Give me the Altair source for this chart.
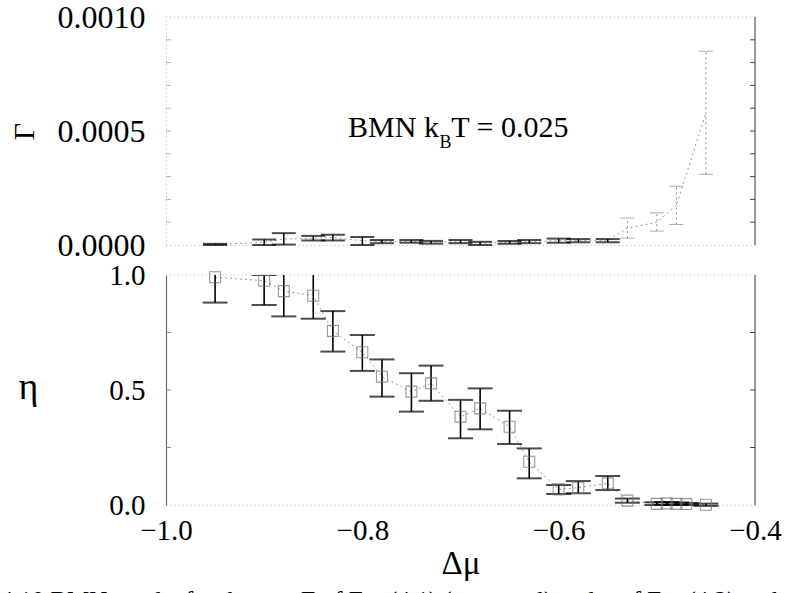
import altair as alt
import pandas as pd

# ---------------- data ----------------
X_DOMAIN = [-1.0, -0.4]
G_DOMAIN = [0.0, 0.001]
E_DOMAIN = [0.0, 1.0]

x_ticks = [-1.0, -0.8, -0.6, -0.4]
g_ticks = [0.0, 0.0005, 0.001]
e_ticks = [0.0, 0.5, 1.0]

# small inward frame ticks
g_minor = [0.0001, 0.0002, 0.0003, 0.0004, 0.0005, 0.0006, 0.0007, 0.0008, 0.0009]
e_minor = [0.25, 0.5, 0.75]
TICK_LEN = 0.005  # in data units of the x axis

# top panel: rate Gamma
g_mu = [-0.95, -0.90, -0.88, -0.85, -0.83, -0.80, -0.78, -0.75, -0.73, -0.70,
        -0.68, -0.65, -0.63, -0.60, -0.58, -0.55, -0.53, -0.50, -0.48, -0.45]
g_val = [0.000002, 0.000012, 0.000026, 0.000030, 0.000033, 0.000019, 0.000015, 0.000016, 0.000012, 0.000015,
         0.000007, 0.000012, 0.000015, 0.000019, 0.000019, 0.000019, 0.000074, 0.000100, 0.000174, 0.000580]
g_lo = [0.000000, 0.000000, 0.000002, 0.000020, 0.000020, 0.000000, 0.000008, 0.000010, 0.000006, 0.000008,
        0.000000, 0.000006, 0.000008, 0.000010, 0.000012, 0.000012, 0.000030, 0.000061, 0.000090, 0.000310]
g_hi = [0.000005, 0.000024, 0.000052, 0.000040, 0.000045, 0.000035, 0.000022, 0.000022, 0.000018, 0.000022,
        0.000014, 0.000018, 0.000022, 0.000028, 0.000026, 0.000026, 0.000118, 0.000141, 0.000258, 0.000850]

# bottom panel: eta
e_mu = [-0.95, -0.90, -0.88, -0.85, -0.83, -0.80, -0.78, -0.75, -0.73, -0.70, -0.68,
        -0.65, -0.63, -0.60, -0.58, -0.55, -0.53, -0.50, -0.49, -0.48, -0.47, -0.45]
e_val = [0.990, 0.975, 0.930, 0.910, 0.757, 0.664, 0.558, 0.493, 0.529, 0.384, 0.420,
         0.340, 0.188, 0.068, 0.075, 0.094, 0.019, 0.005, 0.007, 0.005, 0.004, 0.001]
e_lo = [0.880, 0.870, 0.820, 0.810, 0.667, 0.583, 0.471, 0.406, 0.453, 0.290, 0.329,
        0.265, 0.116, 0.048, 0.051, 0.065, 0.010, 0.000, 0.001, 0.000, 0.000, -0.004]
e_hi = [1.060, 1.000, 1.030, 1.030, 0.843, 0.739, 0.633, 0.573, 0.606, 0.457, 0.507,
        0.410, 0.246, 0.087, 0.104, 0.126, 0.028, 0.012, 0.013, 0.011, 0.009, 0.006]

ann_text = ["BMN k", "B", "T = 0.025"]
ann_mu = [-0.722, -0.7215, -0.7095]
ann_g = [0.000474, 0.000425, 0.000474]

# figure caption, cut off by the bottom edge of the page in the reference
caption = ["4.10   BMN results for the rate Γ of Eq. (4.1) (top panel) and η of Eq. (4.2) and"]
caption_mu = [-1.1687]
caption_eta = [-0.450]

FONT = "Liberation Serif"

# ---------------- layout (pixels) ----------------
PAGE_W = 788
PLOT_X0, PLOT_X1 = 166, 755          # plot area left/right on the page
TOP_H = 228
BOT_PLOT_H = 230
BOT_GROUP_H = 318                    # bottom group reaches the page bottom (clips caption)

# ---------------- tables ----------------
gdf = pd.DataFrame({"mu": g_mu, "val": g_val, "lo": g_lo, "hi": g_hi})
gdf["faint"] = gdf["mu"] > -0.54
edf = pd.DataFrame({"mu": e_mu, "val": e_val, "lo": e_lo, "hi": e_hi})
cdf = pd.DataFrame({"t": caption, "mu": caption_mu, "val": caption_eta})

g_frame = pd.DataFrame({"x1": [X_DOMAIN[0]], "x2": [X_DOMAIN[1]],
                        "y1": [G_DOMAIN[0]], "y2": [G_DOMAIN[1]]})
e_frame = pd.DataFrame({"x1": [X_DOMAIN[0]], "x2": [X_DOMAIN[1]],
                        "y1": [E_DOMAIN[0]], "y2": [E_DOMAIN[1]]})


def y_ticks_df(vals):
    rows = []
    for v in vals:
        rows.append({"xa": X_DOMAIN[1], "xb": X_DOMAIN[1] - TICK_LEN, "y": v, "side": "r"})
        rows.append({"xa": X_DOMAIN[0], "xb": X_DOMAIN[0] + TICK_LEN, "y": v, "side": "l"})
    return pd.DataFrame(rows)


g_tdf = y_ticks_df(g_minor)
e_tdf = y_ticks_df(e_minor)

xs = alt.Scale(domain=X_DOMAIN, range=[PLOT_X0, PLOT_X1], nice=False, zero=False)
gs = alt.Scale(domain=G_DOMAIN, nice=False, zero=False)
es = alt.Scale(domain=E_DOMAIN, range=[BOT_PLOT_H, 0], nice=False, zero=False)

x_top_axis = alt.Axis(labels=False, ticks=False, title="", grid=False,
                      domainColor="#b5b5b5", domainDash=[1, 3])
x_bot_axis = alt.Axis(values=x_ticks, format=".1f", title="Δμ", grid=False, ticks=False,
                      labelFont=FONT, labelFontSize=29, labelColor="black", labelPadding=11,
                      labelFlush=False, labelOverlap=False,
                      domainColor="#b5b5b5", domainDash=[1, 3],
                      titleFont=FONT, titleFontSize=33, titleFontWeight="normal",
                      titleColor="black", titlePadding=2,
                      offset=-(BOT_GROUP_H - BOT_PLOT_H))
g_axis = alt.Axis(values=g_ticks, format=".4f", title="Γ", grid=False, ticks=False,
                  labelFont=FONT, labelFontSize=32, labelColor="black", labelPadding=21,
                  labelOverlap=False,
                  domainColor="#b5b5b5", domainDash=[1, 3],
                  titleFont=FONT, titleFontSize=30, titleFontWeight="normal", titleColor="black",
                  titleAngle=270, titleAlign="center", titleBaseline="middle",
                  titleX=-142, titleY=114, offset=-PLOT_X0)
e_axis = alt.Axis(values=e_ticks, format=".1f", title="η", grid=False, ticks=False,
                  labelFont=FONT, labelFontSize=29, labelColor="black", labelPadding=21,
                  labelOverlap=False,
                  domainColor="#6a6a6a", domainWidth=1.2,
                  titleFont=FONT, titleFontSize=38, titleFontWeight="normal", titleColor="black",
                  titleAngle=0, titleAlign="center", titleBaseline="middle",
                  titleX=-138, titleY=112, offset=-PLOT_X0)

XT = alt.X("mu:Q", scale=xs, axis=x_top_axis)
XB = alt.X("mu:Q", scale=xs, axis=x_bot_axis)


def YG(f):
    return alt.Y(f, scale=gs, axis=g_axis)


def YE(f):
    return alt.Y(f, scale=es, axis=e_axis)


# ---------------- top panel ----------------
gf = alt.Chart(g_frame)
g_top = gf.mark_rule(color="#b5b5b5", strokeDash=[1, 3], strokeWidth=1).encode(
    x=alt.X("x1:Q", scale=xs, axis=x_top_axis), x2="x2:Q", y=YG("y2:Q"))
g_right = gf.mark_rule(color="#333333", strokeWidth=1).encode(
    x=alt.X("x2:Q", scale=xs, axis=x_top_axis), y=YG("y1:Q"), y2="y2:Q")

gtk = alt.Chart(g_tdf)
g_rt = gtk.transform_filter("datum.side == 'r'").mark_rule(color="#444444", strokeWidth=1).encode(
    x=alt.X("xa:Q", scale=xs, axis=x_top_axis), x2="xb:Q", y=YG("y:Q"))
g_lt = gtk.transform_filter("datum.side == 'l'").mark_rule(color="#b0b0b0", strokeWidth=1).encode(
    x=alt.X("xa:Q", scale=xs, axis=x_top_axis), x2="xb:Q", y=YG("y:Q"))

gb = alt.Chart(gdf)
g_line = gb.mark_line(color="#9a9a9a", strokeDash=[2, 3], strokeWidth=1).encode(x=XT, y=YG("val:Q"))
dark = gb.transform_filter("!datum.faint")
light = gb.transform_filter("datum.faint")
g_bar = dark.mark_rule(color="black", strokeWidth=1.5).encode(x=XT, y=YG("lo:Q"), y2="hi:Q")
g_lo_t = dark.mark_tick(orient="horizontal", size=24, thickness=2, color="black").encode(x=XT, y=YG("lo:Q"))
g_hi_t = dark.mark_tick(orient="horizontal", size=24, thickness=2, color="black").encode(x=XT, y=YG("hi:Q"))
f_bar = light.mark_rule(color="#8a8a8a", strokeWidth=1, strokeDash=[2, 3]).encode(x=XT, y=YG("lo:Q"), y2="hi:Q")
f_lo_t = light.mark_tick(orient="horizontal", size=14, thickness=1, color="#8a8a8a").encode(x=XT, y=YG("lo:Q"))
f_hi_t = light.mark_tick(orient="horizontal", size=14, thickness=1, color="#8a8a8a").encode(x=XT, y=YG("hi:Q"))

adf = pd.DataFrame({"t": ann_text, "mu": ann_mu, "g": ann_g})
ab = alt.Chart(adf)
t1 = ab.transform_filter(alt.datum.t == ann_text[0]).mark_text(
    font=FONT, fontSize=30, align="right", baseline="alphabetic", color="black").encode(
    x=XT, y=YG("g:Q"), text="t:N")
t2 = ab.transform_filter(alt.datum.t == ann_text[1]).mark_text(
    font=FONT, fontSize=18, align="left", baseline="alphabetic", color="black").encode(
    x=XT, y=YG("g:Q"), text="t:N")
t3 = ab.transform_filter(alt.datum.t == ann_text[2]).mark_text(
    font=FONT, fontSize=30, align="left", baseline="alphabetic", color="black").encode(
    x=XT, y=YG("g:Q"), text="t:N")

top = alt.layer(g_top, g_right, g_rt, g_lt, g_line, g_bar, g_lo_t, g_hi_t, f_bar, f_lo_t, f_hi_t,
                t1, t2, t3).properties(width=PAGE_W, height=TOP_H)

# ---------------- bottom panel ----------------
ef = alt.Chart(e_frame)
e_top = ef.mark_rule(color="#b5b5b5", strokeDash=[1, 3], strokeWidth=1).encode(
    x=alt.X("x1:Q", scale=xs, axis=x_bot_axis), x2="x2:Q", y=YE("y2:Q"))
e_right = ef.mark_rule(color="#333333", strokeWidth=1).encode(
    x=alt.X("x2:Q", scale=xs, axis=x_bot_axis), y=YE("y1:Q"), y2="y2:Q")

etk = alt.Chart(e_tdf)
e_rt = etk.transform_filter("datum.side == 'r'").mark_rule(color="#444444", strokeWidth=1).encode(
    x=alt.X("xa:Q", scale=xs, axis=x_bot_axis), x2="xb:Q", y=YE("y:Q"))
e_lt = etk.transform_filter("datum.side == 'l'").mark_rule(color="#888888", strokeWidth=1).encode(
    x=alt.X("xa:Q", scale=xs, axis=x_bot_axis), x2="xb:Q", y=YE("y:Q"))

eb = alt.Chart(edf)
e_line = eb.mark_line(color="#9a9a9a", strokeDash=[2, 3], strokeWidth=1).encode(x=XB, y=YE("val:Q"))
e_bar = eb.mark_rule(color="black", strokeWidth=1.6, clip=True).encode(x=XB, y=YE("lo:Q"), y2="hi:Q")
e_lo_t = eb.mark_tick(orient="horizontal", size=25, thickness=2, color="black", clip=True).encode(x=XB, y=YE("lo:Q"))
e_hi_t = eb.mark_tick(orient="horizontal", size=25, thickness=2, color="black", clip=True).encode(x=XB, y=YE("hi:Q"))
e_pts = eb.mark_point(shape="square", filled=False, size=120, color="#6f6f6f", strokeWidth=1.1).encode(
    x=XB, y=YE("val:Q"))

cap = alt.Chart(cdf).mark_text(font=FONT, fontSize=25, align="left", baseline="alphabetic",
                               color="black", clip=True).encode(
    x=XB, y=YE("val:Q"), text="t:N")

bottom = alt.layer(e_top, e_right, e_rt, e_lt, e_line, e_bar, e_lo_t, e_hi_t, e_pts, cap).properties(
    width=PAGE_W, height=BOT_GROUP_H)

chart = alt.vconcat(top, bottom, spacing=30, bounds="flush").properties(
    padding={"left": 0, "top": 1, "right": 0, "bottom": 0},
).configure(background="white").configure_view(strokeWidth=0)

chart.save("out.html", embed_options={"renderer": "svg", "actions": False})
